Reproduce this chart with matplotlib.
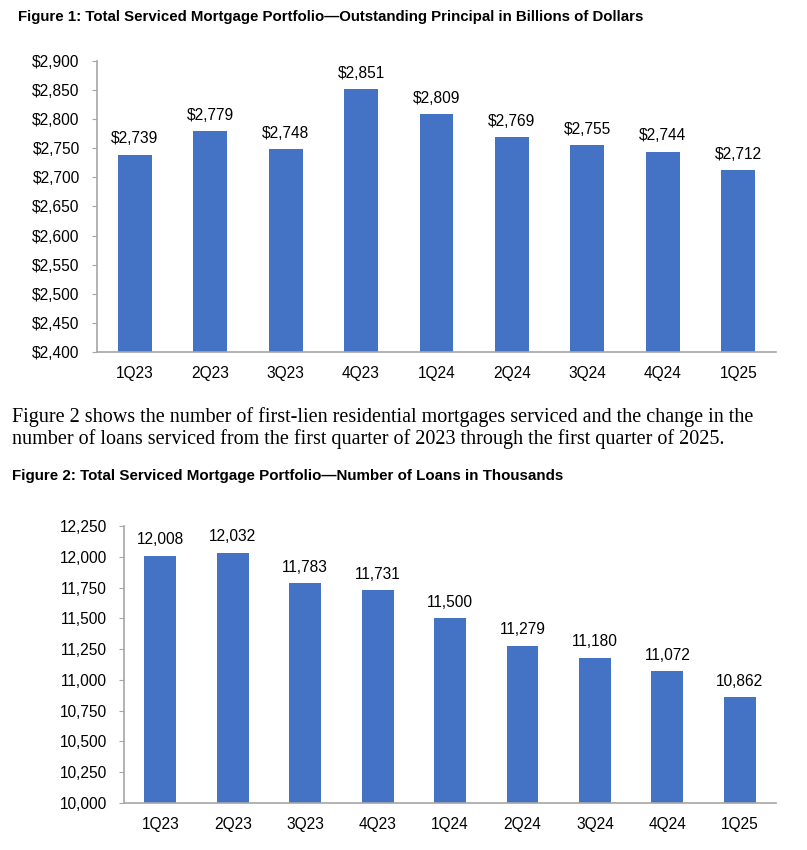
import matplotlib
matplotlib.use("Agg")
import matplotlib.pyplot as plt
from matplotlib.ticker import FuncFormatter

quarters = ["1Q23", "2Q23", "3Q23", "4Q23", "1Q24", "2Q24", "3Q24", "4Q24", "1Q25"]
principal = [2739, 2779, 2748, 2851, 2809, 2769, 2755, 2744, 2712]
loans = [12008, 12032, 11783, 11731, 11500, 11279, 11180, 11072, 10862]

title1 = "Figure 1: Total Serviced Mortgage Portfolio\u2014Outstanding Principal in Billions of Dollars"
title2 = "Figure 2: Total Serviced Mortgage Portfolio\u2014Number of Loans in Thousands"
para = ("Figure 2 shows the number of first-lien residential mortgages serviced and the change in the\n"
        "number of loans serviced from the first quarter of 2023 through the first quarter of 2025.")

plt.rcParams['font.family'] = ['Liberation Sans', 'DejaVu Sans']
BAR = "#4472C4"
SPINE = "#A6A6A6"
FS = 11.2

fig = plt.figure(figsize=(8.07, 8.5), dpi=100)

def style(ax, pad):
    for s in ["top", "right"]:
        ax.spines[s].set_visible(False)
    for s in ["left", "bottom"]:
        ax.spines[s].set_color(SPINE)
        ax.spines[s].set_linewidth(1.2)
    ax.tick_params(axis='y', length=3.5, color=SPINE, labelsize=FS, pad=pad)
    ax.tick_params(axis='x', length=0, labelsize=FS, pad=10)

ax1 = fig.add_axes([0.1202, 0.5859, 0.8414, 0.3424])
x = range(len(quarters))
ax1.bar(x, principal, width=0.45, color=BAR)
ax1.set_ylim(2400, 2900)
ax1.set_yticks(range(2400, 2901, 50))
ax1.yaxis.set_major_formatter(FuncFormatter(lambda v, p: f"${v:,.0f}"))
ax1.set_xlim(-0.5, len(quarters) - 0.5)
ax1.set_xticks(list(x))
ax1.set_xticklabels(quarters)
style(ax1, 9)
for xi, v in zip(x, principal):
    ax1.annotate(f"${v:,}", (xi, v), xytext=(0, 6), textcoords="offset points",
                 ha="center", va="bottom", fontsize=FS)

ax2 = fig.add_axes([0.1537, 0.0553, 0.808, 0.3259])
ax2.bar(x, loans, width=0.44, color=BAR)
ax2.set_ylim(10000, 12250)
ax2.set_yticks(range(10000, 12251, 250))
ax2.yaxis.set_major_formatter(FuncFormatter(lambda v, p: f"{v:,.0f}"))
ax2.set_xlim(-0.5, len(quarters) - 0.5)
ax2.set_xticks(list(x))
ax2.set_xticklabels(quarters)
style(ax2, 9)
for xi, v in zip(x, loans):
    ax2.annotate(f"{v:,}", (xi, v), xytext=(0, 6), textcoords="offset points",
                 ha="center", va="bottom", fontsize=FS)

fig.text(18 / 807, 1 - 17 / 850, title1, fontsize=10.8, fontweight="bold", va="center", ha="left")
fig.text(12 / 807, 1 - 476 / 850, title2, fontsize=10.9, fontweight="bold", va="center", ha="left")
fig.text(12 / 807, 1 - 428 / 850, para, fontsize=14.5, family=["Liberation Serif", "DejaVu Serif"],
         va="center", ha="left", linespacing=1.1)

fig.savefig("out.png", dpi=100)
